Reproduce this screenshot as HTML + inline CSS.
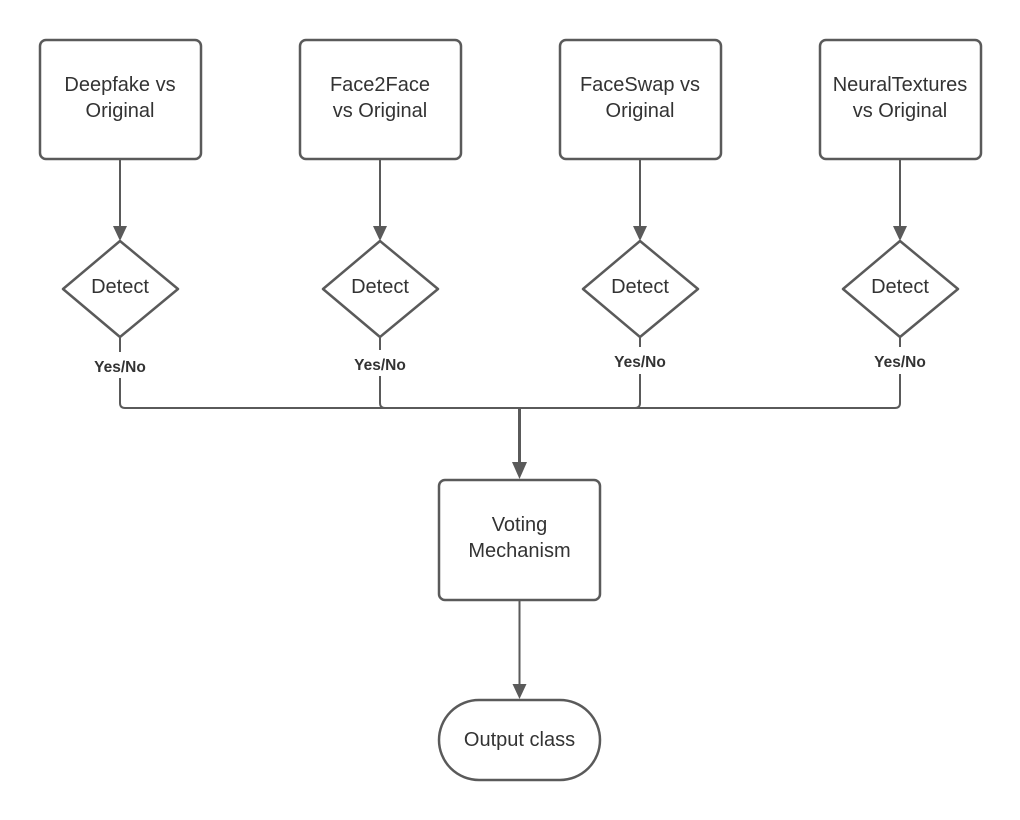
<!DOCTYPE html>
<html><head><meta charset="utf-8"><style>html,body{margin:0;padding:0;background:#fff}svg{display:block}</style></head>
<body>
<svg width="1020" height="820" viewBox="0 0 1020 820" xmlns="http://www.w3.org/2000/svg" font-family="Liberation Sans, sans-serif">
<g fill="#fff" stroke="#5a5a5a" stroke-width="2.5">
<rect x="40" y="40" width="161" height="119" rx="6"/>
<rect x="300" y="40" width="161" height="119" rx="6"/>
<rect x="560" y="40" width="161" height="119" rx="6"/>
<rect x="820" y="40" width="161" height="119" rx="6"/>
<path d="M120,241 L178,289 L120,337 L63,289 Z" stroke-linejoin="round"/>
<path d="M380,241 L438,289 L380,337 L323,289 Z" stroke-linejoin="round"/>
<path d="M640,241 L698,289 L640,337 L583,289 Z" stroke-linejoin="round"/>
<path d="M900,241 L958,289 L900,337 L843,289 Z" stroke-linejoin="round"/>
<rect x="439" y="480" width="161" height="120" rx="6"/>
<rect x="439" y="700" width="161" height="80" rx="40"/>
</g>
<g stroke="#5a5a5a" stroke-width="2" fill="none">
<line x1="120" y1="160" x2="120" y2="228"/>
<line x1="380" y1="160" x2="380" y2="228"/>
<line x1="640" y1="160" x2="640" y2="228"/>
<line x1="900" y1="160" x2="900" y2="228"/>
<line x1="120" y1="338" x2="120" y2="352"/>
<line x1="380" y1="338" x2="380" y2="350"/>
<line x1="640" y1="338" x2="640" y2="347"/>
<line x1="900" y1="338" x2="900" y2="347"/>
<path d="M120,378 V403 Q120,408 125,408 H895 Q900,408 900,403 V374"/>
<path d="M380,376 V403 Q380,408 385,408"/>
<path d="M640,374 V403 Q640,408 635,408"/>
<line x1="519.5" y1="408" x2="519.5" y2="464" stroke-width="3"/>
<line x1="519.5" y1="601" x2="519.5" y2="686"/>
</g>
<g fill="#5a5a5a">
<path d="M113,226 L127,226 L120,241 Z"/>
<path d="M373,226 L387,226 L380,241 Z"/>
<path d="M633,226 L647,226 L640,241 Z"/>
<path d="M893,226 L907,226 L900,241 Z"/>
<path d="M512,462 L527,462 L519.5,479 Z"/>
<path d="M512.5,684 L526.5,684 L519.5,699 Z"/>
</g>
<g fill="#333" font-size="20" text-anchor="middle">
<text x="120" y="91">Deepfake vs</text><text x="120" y="117">Original</text>
<text x="380" y="91">Face2Face</text><text x="380" y="117">vs Original</text>
<text x="640" y="91">FaceSwap vs</text><text x="640" y="117">Original</text>
<text x="900" y="91">NeuralTextures</text><text x="900" y="117">vs Original</text>
<text x="120" y="293">Detect</text><text x="380" y="293">Detect</text>
<text x="640" y="293">Detect</text><text x="900" y="293">Detect</text>
<text x="519.5" y="531">Voting</text><text x="519.5" y="557">Mechanism</text>
<text x="519.5" y="746">Output class</text>
</g>
<g fill="#333" font-size="15.5" font-weight="bold" text-anchor="middle">
<text x="120" y="372">Yes/No</text><text x="380" y="370">Yes/No</text>
<text x="640" y="367">Yes/No</text><text x="900" y="367">Yes/No</text>
</g>
</svg>
</body></html>
